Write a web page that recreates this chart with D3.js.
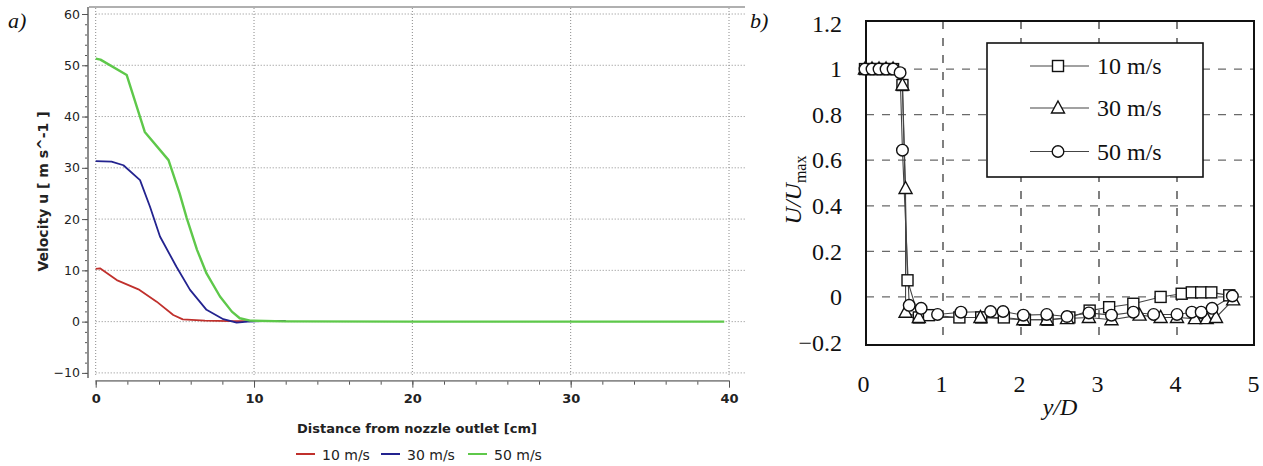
<!DOCTYPE html>
<html>
<head>
<meta charset="utf-8">
<script src="https://cdn.jsdelivr.net/npm/d3@7"></script>
<style>
  html, body { margin: 0; padding: 0; background: #fff; }
  svg { display: block; }
</style>
</head>
<body>
<svg id="chart" width="1263" height="466"></svg>
<script>
// ---------- Panel a) data ----------
const seriesNamesA = ["10 m/s", "30 m/s", "50 m/s"];
const dist10 = [0, 0.27, 1.33, 2.7, 3.85, 4.9, 5.5, 6.9, 8.5, 10, 12];
const vel10  = [10.3, 10.4, 8.1, 6.3, 3.9, 1.3, 0.45, 0.2, 0.1, 0.1, 0.1];
const dist30 = [0, 1.0, 1.75, 2.8, 3.43, 4.06, 5.1, 5.96, 7.0, 8.06, 8.9, 9.6, 10.5, 12];
const vel30  = [31.3, 31.2, 30.5, 27.6, 22.4, 16.6, 10.7, 6.2, 2.3, 0.47, -0.2, 0.0, 0.1, 0.1];
const dist50 = [0, 0.3, 1.96, 3.1, 4.6, 5.3, 5.75, 6.4, 7.0, 7.85, 8.6, 9.1, 9.75, 12, 20, 30, 39.7];
const vel50  = [51.3, 51.1, 48.1, 37.0, 31.5, 25.0, 20.2, 14.0, 9.4, 4.9, 1.95, 0.66, 0.2, 0.05, 0, 0, 0];
const xTicksA = [0, 10, 20, 30, 40];
const yTicksA = [-10, 0, 10, 20, 30, 40, 50, 60];
const colorsA = ["#c0302c", "#23238f", "#5ec84a"];

// ---------- Panel b) data ----------
const seriesNamesB = ["10 m/s", "30 m/s", "50 m/s"];
const yd10 = [0, 0.09, 0.18, 0.27, 0.36, 0.48, 0.545, 0.69, 0.82, 1.21, 1.49, 1.78, 2.05, 2.34, 2.62, 2.88, 3.13, 3.44, 3.79, 4.06, 4.19, 4.31, 4.44, 4.67];
const u10  = [1, 1, 1, 1, 1, 0.93, 0.073, -0.09, -0.08, -0.09, -0.09, -0.09, -0.1, -0.1, -0.09, -0.06, -0.045, -0.03, 0.0, 0.014, 0.02, 0.02, 0.02, 0.007];
const yd30 = [0, 0.09, 0.18, 0.27, 0.36, 0.48, 0.52, 0.52, 0.69, 1.48, 2.03, 2.33, 2.59, 2.87, 3.16, 3.52, 3.79, 4.0, 4.23, 4.38, 4.5, 4.72];
const u30  = [1, 1, 1, 1, 1, 0.93, 0.476, -0.067, -0.09, -0.09, -0.1, -0.1, -0.095, -0.09, -0.1, -0.08, -0.09, -0.09, -0.095, -0.095, -0.09, -0.013];
const yd50 = [0, 0.09, 0.18, 0.27, 0.36, 0.45, 0.48, 0.567, 0.72, 0.93, 1.23, 1.61, 1.77, 2.03, 2.33, 2.59, 2.87, 3.16, 3.44, 3.7, 4.0, 4.19, 4.31, 4.45, 4.71];
const u50  = [1, 1, 1, 1, 1, 0.984, 0.644, -0.037, -0.05, -0.077, -0.067, -0.064, -0.064, -0.08, -0.077, -0.086, -0.07, -0.08, -0.067, -0.077, -0.077, -0.067, -0.067, -0.05, 0.004];
const xTicksB = [0, 1, 2, 3, 4, 5];
const yTicksB = [-0.2, 0, 0.2, 0.4, 0.6, 0.8, 1, 1.2];
const markersB = ["square", "triangle", "circle"];

const svg = d3.select("#chart");
const sans = "'DejaVu Sans', Verdana, sans-serif";
const serif = "'Liberation Serif', 'Times New Roman', serif";

// ================= Panel a =================
const gA = svg.append("g");
const xA = d3.scaleLinear().domain([0, 40]).range([95.7, 729]);
const yA = d3.scaleLinear().domain([-10, 60]).range([372.9, 14]);

// top frame line
gA.append("line").attr("x1", 89).attr("x2", 745).attr("y1", 7).attr("y2", 7)
  .attr("stroke", "#b0b0b0").attr("stroke-width", 2);

// grid
gA.append("g").selectAll("line").data(yTicksA).join("line")
  .attr("x1", xA(0)).attr("x2", 745).attr("y1", d => yA(d)).attr("y2", d => yA(d))
  .attr("stroke", "#8a8a8a").attr("stroke-width", 1).attr("stroke-dasharray", "1,2");
gA.append("g").selectAll("line").data(xTicksA).join("line")
  .attr("x1", d => xA(d)).attr("x2", d => xA(d)).attr("y1", 8).attr("y2", yA(-10) + 2)
  .attr("stroke", "#8a8a8a").attr("stroke-width", 1).attr("stroke-dasharray", "1,2");

// y axis
const yAxisMinor = d3.axisLeft(yA).tickValues(d3.range(-10, 60.01, 2)).tickSize(3).tickFormat("");
const yAxisMajor = d3.axisLeft(yA).tickValues(yTicksA).tickSize(6).tickPadding(2);
const gy1 = gA.append("g").attr("transform", "translate(88,0)").call(yAxisMinor);
const gy2 = gA.append("g").attr("transform", "translate(88,0)").call(yAxisMajor);
[gy1, gy2].forEach(g => {
  g.select(".domain").attr("stroke", "#8c8c8c").attr("stroke-width", 2).attr("d", "M0,7V378");
  g.selectAll(".tick line").attr("stroke", "#555");
});
gy2.selectAll("text").attr("font-family", sans).attr("font-size", 12.5).attr("fill", "#222");

// x axis
const xAxisMinor = d3.axisBottom(xA).tickValues(d3.range(0, 40.01, 2)).tickSize(4).tickFormat("");
const xAxisMajor = d3.axisBottom(xA).tickValues(xTicksA).tickSize(7).tickPadding(6);
const gx1 = gA.append("g").attr("transform", "translate(0,380.7)").call(xAxisMinor);
const gx2 = gA.append("g").attr("transform", "translate(0,380.7)").call(xAxisMajor);
[gx1, gx2].forEach(g => {
  g.select(".domain").attr("stroke", "#8c8c8c").attr("stroke-width", 1.5).attr("d", `M${xA(0)},0H${xA(40)}`);
  g.selectAll(".tick line").attr("stroke", "#555");
});
gx2.selectAll("text").attr("font-family", sans).attr("font-size", 13).attr("font-weight", "bold").attr("fill", "#222");

// lines
const seriesA = [
  dist10.map((d, i) => [d, vel10[i]]),
  dist30.map((d, i) => [d, vel30[i]]),
  dist50.map((d, i) => [d, vel50[i]])
];
const lineA = d3.line().x(d => xA(d[0])).y(d => yA(d[1]));
gA.append("g").selectAll("path").data(seriesA).join("path")
  .attr("d", lineA).attr("fill", "none")
  .attr("stroke", (d, i) => colorsA[i]).attr("stroke-width", (d, i) => i === 2 ? 2.4 : 1.8)
  .attr("stroke-linejoin", "round");

// axis titles
gA.append("text").attr("x", 417).attr("y", 432.5).attr("text-anchor", "middle")
  .attr("font-family", sans).attr("font-size", 13).attr("font-weight", "bold").attr("fill", "#222")
  .text("Distance from nozzle outlet [cm]");
gA.append("text").attr("transform", "translate(48,191.5) rotate(-90)").attr("text-anchor", "middle")
  .attr("font-family", sans).attr("font-size", 14).attr("font-weight", "bold").attr("fill", "#222")
  .text("Velocity u [ m s^-1 ]");

// legend a
const legA = gA.append("g");
const legAX = [296, 381, 468];
seriesNamesA.forEach((name, i) => {
  legA.append("line").attr("x1", legAX[i]).attr("x2", legAX[i] + 19).attr("y1", 454).attr("y2", 454)
    .attr("stroke", colorsA[i]).attr("stroke-width", 2);
  legA.append("text").attr("x", legAX[i] + 26).attr("y", 459.5)
    .attr("font-family", sans).attr("font-size", 14).attr("fill", "#222").text(name);
});

// panel label
svg.append("text").attr("x", 8).attr("y", 28).attr("font-family", serif).attr("font-style", "italic")
  .attr("font-size", 22).attr("fill", "#111").text("a)");

// ================= Panel b =================
const gB = svg.append("g");
const xB = d3.scaleLinear().domain([0, 5]).range([865, 1255]);
const yB = d3.scaleLinear().domain([-0.2, 1.2]).range([342.5, 23.5]);
const fL = 866, fR = 1254, fT = 21, fB = 345;

// grid (dashed)
gB.append("g").selectAll("line").data([0, 0.2, 0.4, 0.6, 0.8, 1]).join("line")
  .attr("x1", fL).attr("x2", fR).attr("y1", d => yB(d)).attr("y2", d => yB(d))
  .attr("stroke", "#6a6a6a").attr("stroke-width", 1.3).attr("stroke-dasharray", "8,8");
gB.append("g").selectAll("line").data([1, 2, 3, 4]).join("line")
  .attr("x1", d => xB(d)).attr("x2", d => xB(d)).attr("y1", fT).attr("y2", fB)
  .attr("stroke", "#4a4a4a").attr("stroke-width", 1.4).attr("stroke-dasharray", "8,9");

// frame
gB.append("rect").attr("x", fL).attr("y", fT).attr("width", fR - fL).attr("height", fB - fT)
  .attr("fill", "none").attr("stroke", "#111").attr("stroke-width", 2);

// tick labels via axes (no domain / ticks)
const yAxB = d3.axisLeft(yB).tickValues(yTicksB).tickSize(0).tickPadding(0)
  .tickFormat(d => d3.format("")(+d.toFixed(1)));
const gyB = gB.append("g").attr("transform", "translate(842,0)").call(yAxB);
gyB.select(".domain").remove();
gyB.selectAll("text").attr("font-family", serif).attr("font-size", 24).attr("fill", "#111");

const xAxB = d3.axisBottom(xB).tickValues(xTicksB).tickSize(0).tickPadding(0).tickFormat(d3.format("d"));
const gxB = gB.append("g").attr("transform", "translate(-2,375)").call(xAxB);
gxB.select(".domain").remove();
gxB.selectAll("text").attr("font-family", serif).attr("font-size", 24).attr("fill", "#111");

// series lines and markers
const seriesB = [
  yd10.map((d, i) => [d, u10[i]]),
  yd30.map((d, i) => [d, u30[i]]),
  yd50.map((d, i) => [d, u50[i]])
];
const lineB = d3.line().x(d => xB(d[0])).y(d => yB(d[1]));
gB.append("g").selectAll("path").data(seriesB).join("path")
  .attr("d", lineB).attr("fill", "none").attr("stroke", "#444").attr("stroke-width", 1.1);

function drawMarker(g, type, x, y) {
  if (type === "square") {
    g.append("rect").attr("x", x - 5.5).attr("y", y - 5.5).attr("width", 11).attr("height", 11)
      .attr("fill", "#fff").attr("stroke", "#111").attr("stroke-width", 1.4);
  } else if (type === "triangle") {
    g.append("path").attr("d", `M${x},${y - 7}L${x + 6.5},${y + 5}L${x - 6.5},${y + 5}Z`)
      .attr("fill", "#fff").attr("stroke", "#111").attr("stroke-width", 1.4);
  } else {
    g.append("circle").attr("cx", x).attr("cy", y).attr("r", 5.8)
      .attr("fill", "#fff").attr("stroke", "#111").attr("stroke-width", 1.4);
  }
}
const gm = gB.append("g");
seriesB.forEach((s, i) => {
  s.forEach(p => drawMarker(gm, markersB[i], xB(p[0]), yB(p[1])));
});

// legend b
const legB = gB.append("g");
legB.append("rect").attr("x", 987).attr("y", 43).attr("width", 216).attr("height", 134)
  .attr("fill", "#fff").attr("stroke", "#111").attr("stroke-width", 1.6);
const legBY = [66, 108, 151.5];
seriesNamesB.forEach((name, i) => {
  legB.append("line").attr("x1", 1030).attr("x2", 1089).attr("y1", legBY[i]).attr("y2", legBY[i])
    .attr("stroke", "#444").attr("stroke-width", 1.1);
  drawMarker(legB, markersB[i], 1058, legBY[i]);
  legB.append("text").attr("x", 1097).attr("y", legBY[i] + 8)
    .attr("font-family", serif).attr("font-size", 24).attr("fill", "#111").text(name);
});

// axis titles b
gB.append("text").attr("x", 1060).attr("y", 415).attr("text-anchor", "middle")
  .attr("font-family", serif).attr("font-style", "italic").attr("font-size", 24).attr("fill", "#111")
  .text("y/D");
const yl = gB.append("text").attr("transform", "translate(801,190) rotate(-90)").attr("text-anchor", "middle")
  .attr("font-family", serif).attr("font-style", "italic").attr("font-size", 24).attr("fill", "#111");
yl.append("tspan").text("U/U");
yl.append("tspan").attr("font-style", "normal").attr("font-size", 16).attr("dy", 5).text("max");

svg.append("text").attr("x", 750).attr("y", 28).attr("font-family", serif).attr("font-style", "italic")
  .attr("font-size", 22).attr("fill", "#111").text("b)");
</script>
</body>
</html>
